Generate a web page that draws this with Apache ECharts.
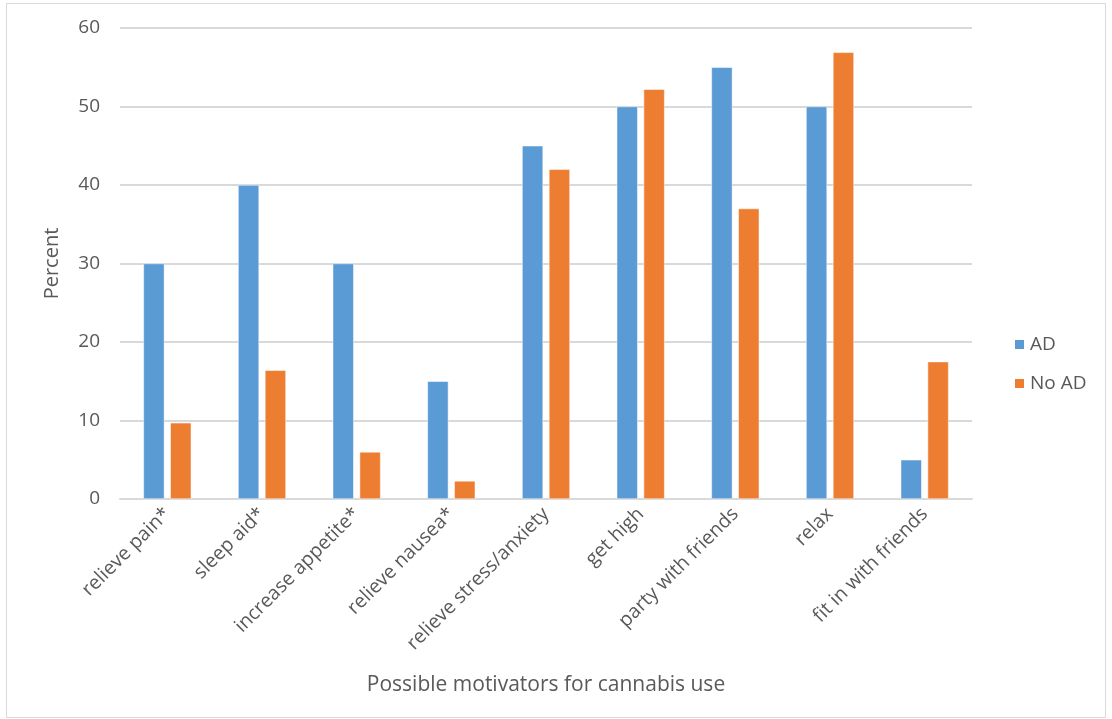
<!DOCTYPE html>
<html>
<head>
<meta charset="utf-8">
<script src="https://cdn.jsdelivr.net/npm/echarts@6/dist/echarts.min.js"></script>
<style>
  html, body { margin: 0; padding: 0; background: #fff; }
  #frame { position: absolute; left: 6px; top: 3px; width: 1098px; height: 713px; border: 1px solid #d9d9d9; }
  #chart { position: absolute; left: 0; top: 0; width: 1112px; height: 719px; }
</style>
</head>
<body>
<div id="frame"></div>
<div id="chart"></div>
<script>
const motivators = ['relieve pain*', 'sleep aid*', 'increase appetite*', 'relieve nausea*',
  'relieve stress/anxiety', 'get high', 'party with friends', 'relax', 'fit in with friends'];
const adValues = [30, 40, 30, 15, 45, 50, 55, 50, 5];
const noAdValues = [9.7, 16.4, 6, 2.3, 42, 52.2, 37, 56.9, 17.5];
const seriesNames = ['AD', 'No AD'];

const font = '"Open Sans", "Noto Sans", sans-serif';
const textColor = '#595959';

const chart = echarts.init(document.getElementById('chart'));
chart.setOption({
  animation: false,
  textStyle: { fontFamily: font },
  grid: { left: 120, right: 140, top: 28, bottom: 220 },
  legend: {
    orient: 'vertical',
    left: 1008,
    top: 330,
    itemWidth: 11,
    itemHeight: 11,
    itemGap: 20,
    icon: 'rect',
    textStyle: { fontSize: 19, color: textColor, fontFamily: font },
    data: seriesNames
  },
  xAxis: {
    type: 'category',
    data: motivators,
    axisTick: { show: false },
    axisLine: { lineStyle: { color: '#d9d9d9', width: 2 } },
    axisLabel: { rotate: 45, fontSize: 19.5, color: textColor, margin: 12, interval: 0 },
    name: 'Possible motivators for cannabis use',
    nameLocation: 'middle',
    nameGap: 176,
    nameTextStyle: { fontSize: 21, color: textColor }
  },
  yAxis: {
    type: 'value',
    min: 0,
    max: 60,
    interval: 10,
    axisLine: { show: false },
    axisTick: { show: false },
    axisLabel: { fontSize: 19, color: textColor, margin: 20 },
    splitLine: { lineStyle: { color: '#d9d9d9', width: 2 } },
    name: 'Percent',
    nameLocation: 'middle',
    nameGap: 58,
    nameTextStyle: { fontSize: 20, color: textColor }
  },
  series: [
    {
      name: seriesNames[0],
      type: 'bar',
      data: adValues,
      barWidth: 21,
      barGap: '28%',
      itemStyle: { color: '#5B9BD5', borderColor: '#fff', borderWidth: 0.5 }
    },
    {
      name: seriesNames[1],
      type: 'bar',
      data: noAdValues,
      barWidth: 21,
      barGap: '28%',
      itemStyle: { color: '#ED7D31', borderColor: '#fff', borderWidth: 0.5 }
    }
  ]
});
</script>
</body>
</html>
